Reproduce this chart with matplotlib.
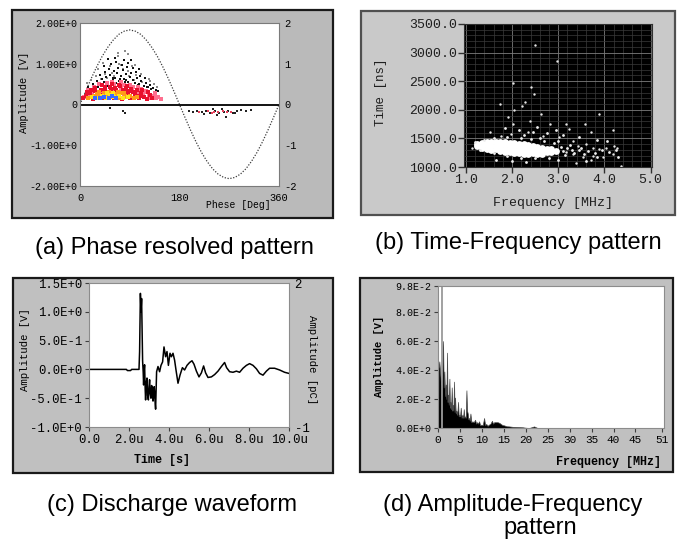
import matplotlib
matplotlib.use('Agg')
import matplotlib.pyplot as plt
from matplotlib.patches import Rectangle
from matplotlib.ticker import MultipleLocator

plt.rcParams['font.family'] = ['Liberation Mono', 'DejaVu Sans Mono']

W, H = 678, 541

# ---- (a) phase resolved pattern ----
sine_phase = list(range(0, 361, 10))
sine_amp = [0.00, 0.32, 0.63, 0.92, 1.18, 1.40, 1.58, 1.72, 1.80, 1.83,
            1.80, 1.72, 1.58, 1.40, 1.18, 0.92, 0.63, 0.32, 0.00,
            -0.32, -0.63, -0.92, -1.18, -1.40, -1.58, -1.71, -1.79, -1.82,
            -1.79, -1.71, -1.58, -1.40, -1.18, -0.92, -0.63, -0.32, 0.00]

gray_phase = [12, 20, 29, 38, 46, 54, 62, 70, 78, 86, 94, 102, 110, 118, 126, 134, 140,
              18, 32, 48, 58, 68, 74, 88, 98, 112, 124, 69, 81, 87, 42, 100]
gray_amp = [0.52, 0.6, 0.7, 0.62, 0.74, 0.95, 0.7, 1.0, 0.88, 0.82, 0.94, 0.72, 0.76, 0.64, 0.58, 0.5, 0.44,
            0.34, 0.88, 0.66, 0.78, 1.18, 0.96, 0.7, 0.6, 0.55, 0.62, 1.26, 1.31, 1.24, 1.02, 0.98]

black_phase = [10, 14, 19, 23, 27, 31, 35, 39, 43, 47, 51, 55, 59, 63, 67, 71, 75, 79, 83, 87,
               91, 95, 99, 103, 107, 111, 115, 119, 123, 127, 132, 137, 142,
               25, 33, 41, 49, 57, 65, 73, 81, 89, 97, 105, 113, 121, 129,
               37, 45, 53, 61, 69, 77, 85, 93, 101, 109, 117,
               44, 56, 66, 76, 86, 96, 106,
               50, 64, 80, 92, 60, 72, 84]
black_amp = [0.3, 0.42, 0.36, 0.5, 0.44, 0.58, 0.47, 0.62, 0.55, 0.68, 0.52, 0.72, 0.6, 0.66, 0.78, 0.58, 0.7, 0.62, 0.74, 0.55,
             0.68, 0.6, 0.52, 0.64, 0.5, 0.58, 0.46, 0.53, 0.42, 0.48, 0.4, 0.36, 0.32,
             0.38, 0.42, 0.48, 0.45, 0.5, 0.52, 0.48, 0.55, 0.5, 0.45, 0.48, 0.4, 0.42, 0.38,
             0.72, 0.8, 0.86, 0.82, 0.9, 0.84, 0.92, 0.78, 0.8, 0.7, 0.66,
             0.95, 1.0, 1.05, 0.98, 1.02, 0.9, 0.86,
             1.12, 1.15, 1.08, 1.1, 0.64, 0.62, 0.6]

pink_phase = [8, 16, 22, 31, 37, 44, 49, 54, 59, 68, 74, 79, 83, 89, 94, 98, 104, 109, 114, 118,
              124, 129, 134, 138, 142, 146, 26, 48, 62, 80, 95, 110, 120, 136, 15, 34, 57, 75, 90, 105]
pink_amp = [0.19, 0.25, 0.31, 0.21, 0.27, 0.35, 0.25, 0.29, 0.33, 0.3, 0.38, 0.19, 0.42, 0.22, 0.35, 0.17, 0.3, 0.24, 0.2, 0.3,
            0.2, 0.17, 0.22, 0.15, 0.19, 0.14, 0.44, 0.52, 0.5, 0.49, 0.43, 0.38, 0.33, 0.28, 0.36, 0.5, 0.56, 0.55, 0.47, 0.42]

red_phase = [6, 10, 14, 18, 24, 28, 33, 38, 42, 46, 51, 56, 61, 66, 71, 76, 81, 86, 91, 96, 101, 106, 111, 116, 121, 126, 131,
             12, 20, 27, 35, 45, 55, 63, 73, 84, 93, 103, 113, 123,
             30, 41, 52, 64, 77, 88, 99, 108, 40, 58, 70, 85]
red_amp = [0.15, 0.22, 0.16, 0.28, 0.14, 0.33, 0.18, 0.36, 0.15, 0.32, 0.19, 0.38, 0.15, 0.35, 0.24, 0.14, 0.33, 0.26, 0.15, 0.3,
           0.22, 0.15, 0.28, 0.18, 0.14, 0.24, 0.16,
           0.3, 0.35, 0.4, 0.29, 0.42, 0.44, 0.41, 0.45, 0.4, 0.38, 0.35, 0.36, 0.3,
           0.24, 0.23, 0.27, 0.21, 0.36, 0.32, 0.26, 0.21, 0.48, 0.5, 0.47, 0.46]

orange_phase = [15, 25, 30, 38, 43, 50, 58, 65, 72, 75, 82, 90, 97, 104, 35, 53, 68, 80]
orange_amp = [0.17, 0.22, 0.26, 0.2, 0.27, 0.23, 0.19, 0.25, 0.16, 0.28, 0.22, 0.2, 0.17, 0.18, 0.3, 0.31, 0.3, 0.27]

yellow_phase = [22, 33, 40, 47, 55, 62, 70, 78, 86, 48, 60]
yellow_amp = [0.19, 0.17, 0.22, 0.16, 0.24, 0.18, 0.2, 0.17, 0.19, 0.27, 0.28]

blue_phase = [28, 36, 44, 52, 57, 66]
blue_amp = [0.16, 0.15, 0.18, 0.15, 0.2, 0.16]

neg_phase = [54, 78, 82, 198, 205, 212, 220, 228, 236, 244, 252, 260, 268, 276, 284, 292, 300, 310,
             224, 248, 264, 280, 256, 240]
neg_amp = [-0.09, -0.17, -0.2, -0.16, -0.18, -0.15, -0.19, -0.17, -0.2, -0.16, -0.22, -0.18, -0.15, -0.2,
           -0.17, -0.14, -0.16, -0.13, -0.24, -0.26, -0.3, -0.22, -0.12, -0.12]
neg_red_phase = [216, 232, 242, 250, 258, 266, 274, 238]
neg_red_amp = [-0.18, -0.17, -0.19, -0.18, -0.17, -0.19, -0.18, -0.2]

a_xticks = [0, 180, 360]
a_yticks = [2, 1, 0, -1, -2]
a_left_labels = ['2.00E+0', '1.00E+0', '0', '-1.00E+0', '-2.00E+0']
a_right_labels = ['2', '1', '0', '-1', '-2']

# ---- (b) time-frequency pattern ----
core_freq = [1.25, 1.25, 1.35, 1.35, 1.35, 1.45, 1.45, 1.45, 1.55, 1.55, 1.55, 1.65, 1.65, 1.65,
             1.75, 1.75, 1.75, 1.75, 1.85, 1.85, 1.85, 1.85, 1.95, 1.95, 1.95, 1.95,
             2.05, 2.05, 2.05, 2.05, 2.15, 2.15, 2.15, 2.15, 2.25, 2.25, 2.25, 2.25,
             2.35, 2.35, 2.35, 2.35, 2.45, 2.45, 2.45, 2.55, 2.55, 2.55, 2.65, 2.65, 2.65,
             2.75, 2.75, 2.85, 2.85, 2.95]
core_time = [1400, 1360, 1420, 1380, 1340, 1430, 1380, 1320, 1440, 1370, 1300, 1430, 1370, 1310,
             1440, 1390, 1340, 1280, 1430, 1380, 1320, 1270, 1420, 1370, 1310, 1260,
             1420, 1360, 1300, 1250, 1410, 1350, 1290, 1240, 1400, 1340, 1280, 1230,
             1390, 1330, 1270, 1220, 1360, 1300, 1240, 1350, 1290, 1230, 1340, 1290, 1230,
             1320, 1260, 1310, 1260, 1280]

mid_freq = [3.05, 3.10, 3.15, 3.20, 3.25, 3.30, 3.35, 3.45, 3.50, 3.55, 3.65, 3.80, 3.85, 3.95, 4.10, 4.25, 4.30,
            2.90, 3.00, 2.70, 2.60, 2.40, 2.20, 1.90, 1.60, 1.40, 1.20, 1.30, 1.60, 1.90, 2.20, 2.50, 2.80, 3.00,
            2.45, 2.75, 2.15, 1.85, 3.10, 2.55, 2.95, 2.25, 1.65, 2.30, 3.45, 3.85, 4.05, 3.60, 2.00]
mid_time = [1350, 1280, 1210, 1330, 1390, 1300, 1240, 1290, 1330, 1220, 1280, 1250, 1180, 1300, 1260, 1300, 1180,
            1420, 1450, 1460, 1500, 1490, 1500, 1520, 1500, 1470, 1430, 1300, 1250, 1200, 1160, 1150, 1160, 1120,
            1620, 1600, 1650, 1680, 1560, 1700, 1640, 1560, 1130, 1090, 1530, 1470, 1450, 1100, 1100]

sparse_freq = [2.50, 2.98, 2.01, 2.41, 2.48, 1.74, 2.28, 2.22, 3.88, 2.63, 2.05, 1.92, 2.03, 2.39, 2.83,
               3.17, 3.57, 3.24, 3.71, 4.18, 1.52, 1.77, 2.35, 2.68, 3.02, 1.97, 3.32, 3.42, 3.60, 3.75,
               3.89, 4.04, 4.21, 4.28, 4.36, 4.18, 3.96, 3.75, 3.53, 3.32, 3.17, 3.39, 3.71, 1.14]
sparse_time = [3130, 2860, 2460, 2390, 2270, 2110, 2140, 2060, 1920, 1920, 1990, 1870, 1750, 1810, 1750,
               1745, 1750, 1670, 1610, 1640, 1610, 1550, 1610, 1550, 1520, 1580, 1460, 1370, 1400, 1340,
               1310, 1340, 1370, 1340, 1020, 1230, 1170, 1200, 1170, 1230, 1260, 1070, 1120, 1340]

b_xticks = [1, 2, 3, 4, 5]
b_xlabels = ['1.0', '2.0', '3.0', '4.0', '5.0']
b_yticks = [1000, 1500, 2000, 2500, 3000, 3500]
b_ylabels = ['1000.0', '1500.0', '2000.0', '2500.0', '3000.0', '3500.0']

# ---- (c) discharge waveform (time in us) ----
wave_time = [0.0, 1.87, 1.92, 2.08, 2.13, 2.50, 2.53, 2.57, 2.60, 2.63,
             2.68, 2.71, 2.73, 2.76, 2.78, 2.81, 2.83, 2.86, 2.90, 2.93,
             2.97, 3.00, 3.03, 3.06, 3.10, 3.13, 3.17, 3.20, 3.23, 3.26,
             3.28, 3.31, 3.33, 3.36, 3.38, 3.45, 3.53, 3.60, 3.68, 3.75,
             3.83, 3.90, 3.97, 4.05, 4.12, 4.20, 4.28, 4.35, 4.45, 4.55,
             4.67, 4.78, 4.90, 5.03, 5.15, 5.25, 5.37, 5.50, 5.62, 5.73,
             5.83, 5.95, 6.12, 6.28, 6.45, 6.62, 6.78, 6.88, 7.03, 7.20,
             7.37, 7.53, 7.70, 7.87, 8.03, 8.20, 8.37, 8.53, 8.70, 8.87,
             9.03, 9.28, 9.53, 9.78, 10.0]
wave_amp = [0.0, 0.0, -0.02, -0.02, 0.0, 0.0, 0.31, 1.32, 1.00, 1.23,
            0.15, -0.05, -0.27, 0.0, 0.08, -0.35, -0.53, -0.25, -0.15, -0.45,
            -0.53, -0.30, -0.18, -0.42, -0.50, -0.28, -0.33, -0.55, -0.47, -0.30,
            -0.39, -0.60, -0.69, -0.30, -0.04, 0.05, -0.04, 0.07, 0.13, 0.39,
            0.22, 0.31, 0.07, 0.28, 0.22, 0.28, 0.16, -0.01, -0.24, -0.10,
            0.03, -0.01, 0.07, 0.12, 0.15, 0.09, -0.03, -0.13, -0.06, 0.06,
            -0.06, -0.14, -0.13, -0.09, -0.03, 0.05, 0.12, 0.03, -0.04, -0.05,
            -0.03, -0.05, 0.02, 0.07, 0.10, 0.07, 0.01, -0.07, -0.10, -0.03,
            0.02, 0.02, -0.01, -0.05, -0.07]
c_xticks = [0, 2, 4, 6, 8, 10]
c_xlabels = ['0.0', '2.0u', '4.0u', '6.0u', '8.0u', '10.0u']
c_yticks = [1.5, 1.0, 0.5, 0.0, -0.5, -1.0]
c_ylabels = ['1.5E+0', '1.0E+0', '5.0E-1', '0.0E+0', '-5.0E-1', '-1.0E+0']

# ---- (d) amplitude-frequency pattern ----
spec_freq = [0.0, 0.1, 0.3, 0.5, 0.7, 0.9, 1.15, 1.3, 1.45, 1.6,
             1.76, 1.9, 2.06, 2.18, 2.29, 2.45, 2.6, 2.72, 2.83, 2.98,
             3.13, 3.25, 3.36, 3.5, 3.66, 3.78, 3.89, 4.05, 4.19, 4.38,
             4.57, 4.72, 4.88, 5.03, 5.18, 5.37, 5.56, 5.72, 5.87, 6.02,
             6.17, 6.32, 6.48, 6.62, 6.78, 6.93, 7.09, 7.24, 7.39, 7.6,
             7.85, 8.15, 8.45, 8.7, 8.9, 9.1, 9.37, 9.6, 9.9, 10.2,
             10.5, 10.75, 11.0, 11.3, 11.6, 11.95, 12.3, 12.55, 12.8, 13.2,
             13.6, 14.0, 14.3, 14.7, 15.1, 15.6, 16.2, 17.0, 17.7, 18.5,
             19.3, 20.0, 20.8, 21.4, 21.9, 22.3, 22.7, 51.0]
spec_amp = [0.0, 0.041, 0.046, 0.038, 0.030, 0.036, 0.060, 0.028, 0.039, 0.022,
            0.030, 0.020, 0.052, 0.018, 0.023, 0.016, 0.034, 0.014, 0.018, 0.013,
            0.028, 0.012, 0.016, 0.012, 0.032, 0.011, 0.021, 0.010, 0.012, 0.009,
            0.018, 0.008, 0.009, 0.008, 0.014, 0.007, 0.009, 0.007, 0.013, 0.007,
            0.008, 0.007, 0.026, 0.012, 0.010, 0.006, 0.0069, 0.005, 0.010, 0.004,
            0.0046, 0.004, 0.0057, 0.003, 0.004, 0.003, 0.0046, 0.002, 0.0023, 0.002,
            0.0069, 0.002, 0.0028, 0.0015, 0.0023, 0.003, 0.005, 0.003, 0.004, 0.004,
            0.004, 0.0035, 0.0028, 0.002, 0.0018, 0.0012, 0.0011, 0.0008, 0.0007, 0.0006,
            0.0005, 0.0002, 0.0, 0.0006, 0.0011, 0.0005, 0.0, 0.0]
cursor_freq = 0.85
d_xticks = [0, 5, 10, 15, 20, 25, 30, 35, 40, 45, 51]
d_yticks = [0.0, 0.02, 0.04, 0.06, 0.08, 0.098]
d_ylabels = ['0.0E+0', '2.0E-2', '4.0E-2', '6.0E-2', '8.0E-2', '9.8E-2']

captions = ['(a) Phase resolved pattern', '(b) Time-Frequency pattern',
            '(c) Discharge waveform', '(d) Amplitude-Frequency', 'pattern']


fig = plt.figure(figsize=(W / 100, H / 100), dpi=100)
fig.patch.set_facecolor('white')


def px_rect(x0, y0, x1, y1):
    # pixel box measured from the top-left corner -> figure fraction
    return [x0 / W, 1 - y1 / H, (x1 - x0) / W, (y1 - y0) / H]


def px_text(x, y, s, **kw):
    kw.setdefault('ha', 'center')
    kw.setdefault('va', 'center')
    fig.text(x / W, 1 - y / H, s, **kw)


def frame(x0, y0, x1, y1, face, edge):
    l, b, w, h = px_rect(x0, y0, x1, y1)
    fig.add_artist(Rectangle((l, b), w, h, transform=fig.transFigure,
                             facecolor=face, edgecolor=edge, lw=1.6, zorder=-5))


frame(12, 10, 333, 218, '#bababa', '#1a1a1a')
frame(361, 11, 675, 215, '#c9c9c9', '#505050')
frame(13, 278, 333, 473, '#c0c0c0', '#1a1a1a')
frame(360, 278, 673, 472, '#c0c0c0', '#1a1a1a')

# (a)
ax = fig.add_axes(px_rect(80, 23, 279, 186))
ax.plot(sine_phase, sine_amp, color='#3c3c3c', lw=0.9, ls=(0, (1, 1.3)))
ax.axhline(0, color='black', lw=1.3)
layers = [(gray_phase, gray_amp, '#8c8c8c', 4),
          (black_phase, black_amp, '#111111', 4),
          (pink_phase, pink_amp, '#ff6f8f', 7),
          (red_phase, red_amp, '#e8102e', 7),
          (orange_phase, orange_amp, '#ff9a1a', 6),
          (yellow_phase, yellow_amp, '#ffe21a', 6),
          (blue_phase, blue_amp, '#3a6bff', 6),
          (neg_phase, neg_amp, '#222222', 3),
          (neg_red_phase, neg_red_amp, '#e8405a', 4)]
for ph, am, col, size in layers:
    ax.scatter(ph, am, s=size, c=col, marker='s', linewidths=0, zorder=3)
ax.set_xlim(0, 360)
ax.set_ylim(-2, 2)
ax.set_xticks(a_xticks)
ax.set_xticklabels([str(v) for v in a_xticks])
ax.set_yticks(a_yticks)
ax.set_yticklabels(a_left_labels)
ax.tick_params(length=0, labelsize=7.2, pad=2)
ax.tick_params(axis='x', pad=5, labelsize=7.5)
for sp in ax.spines.values():
    sp.set_color('#7a7a7a')
    sp.set_linewidth(0.8)
ax2 = ax.twinx()
ax2.set_ylim(-2, 2)
ax2.set_yticks(a_yticks)
ax2.set_yticklabels(a_right_labels)
ax2.tick_params(length=0, labelsize=7.5, pad=4)
for sp in ax2.spines.values():
    sp.set_visible(False)
px_text(24, 92, 'Amplitude [V]', rotation=90, fontsize=7.5)
px_text(238, 205, 'Phese [Deg]', fontsize=7)

# (b)
bx = fig.add_axes(px_rect(464, 24, 652, 167))
bx.set_facecolor('black')
bx.set_xlim(0.96, 5.03)
bx.set_ylim(1000, 3500)
bx.xaxis.set_minor_locator(MultipleLocator(0.2))
bx.yaxis.set_minor_locator(MultipleLocator(100))
bx.set_axisbelow(True)
bx.grid(which='minor', color='#3a3a3a', lw=0.5)
bx.grid(which='major', color='#7c7c7c', lw=0.6)
bx.scatter(core_freq, core_time, s=24, c='white', marker='o', linewidths=0)
bx.scatter(mid_freq, mid_time, s=4, c='#eeeeee', marker='o', linewidths=0)
bx.scatter(sparse_freq, sparse_time, s=3, c='#e6e6e6', marker='o', linewidths=0)
bx.set_xticks(b_xticks)
bx.set_xticklabels(b_xlabels)
bx.set_yticks(b_yticks)
bx.set_yticklabels(b_ylabels)
bx.tick_params(which='minor', length=0)
bx.tick_params(which='major', length=4, width=1, color='#303030',
               labelsize=9.5, pad=1, labelcolor='#1e1e1e')
for sp in bx.spines.values():
    sp.set_color('#303030')
px_text(381, 92, 'Time [ns]', rotation=90, fontsize=9, color='#1e1e1e')
px_text(553, 203, 'Frequency [MHz]', fontsize=9.5, color='#1e1e1e')

# (c)
cx = fig.add_axes(px_rect(89, 283, 289, 427))
cx.plot(wave_time, wave_amp, color='black', lw=1.1)
cx.set_xlim(0, 10)
cx.set_ylim(-1, 1.5)
cx.set_xticks(c_xticks)
cx.set_xticklabels(c_xlabels)
cx.set_yticks(c_yticks)
cx.set_yticklabels(c_ylabels)
cx.tick_params(length=3, labelsize=8.8, pad=2, color='#404040')
for sp in cx.spines.values():
    sp.set_color('#8c8c8c')
cx2 = cx.twinx()
cx2.set_ylim(-1, 2)
cx2.set_yticks([-1, 2])
cx2.set_yticklabels(['-1', '2'])
cx2.tick_params(length=0, labelsize=8.8, pad=4)
for sp in cx2.spines.values():
    sp.set_visible(False)
px_text(25, 350, 'Amplitude [V]', rotation=90, fontsize=7.7)
px_text(312, 360, 'Amplitude [pC]', rotation=270, fontsize=7.7)
px_text(162, 460, 'Time [s]', fontsize=8.5, fontweight='bold')

# (d)
dx = fig.add_axes(px_rect(438, 286, 664, 428))
dx.fill_between(spec_freq, 0, spec_amp, facecolor='black', edgecolor='#4a4a4a', lw=0.5)
dx.axvline(cursor_freq, color='#9a9a9a', lw=1.3)
dx.set_xlim(0, 51.5)
dx.set_ylim(0, 0.098)
dx.set_xticks(d_xticks)
dx.set_xticklabels([str(v) for v in d_xticks])
dx.set_yticks(d_yticks)
dx.set_yticklabels(d_ylabels)
dx.tick_params(length=3, labelsize=7.2, pad=2, color='#404040')
dx.tick_params(axis='x', labelsize=8)
for sp in dx.spines.values():
    sp.set_color('#8c8c8c')
px_text(379, 356, 'Amplitude [V]', rotation=90, fontsize=7.5, fontweight='bold')
px_text(608, 462, 'Frequency [MHz]', fontsize=8.5, fontweight='bold')

# captions
cap = dict(fontsize=17, family=['Liberation Sans', 'DejaVu Sans'])
px_text(174, 248, captions[0], **cap)
px_text(518, 243, captions[1], **cap)
px_text(172, 505, captions[2], **cap)
px_text(513, 505, captions[3], **cap)
px_text(540, 528, captions[4], **cap)

fig.savefig('out.png', dpi=100)
